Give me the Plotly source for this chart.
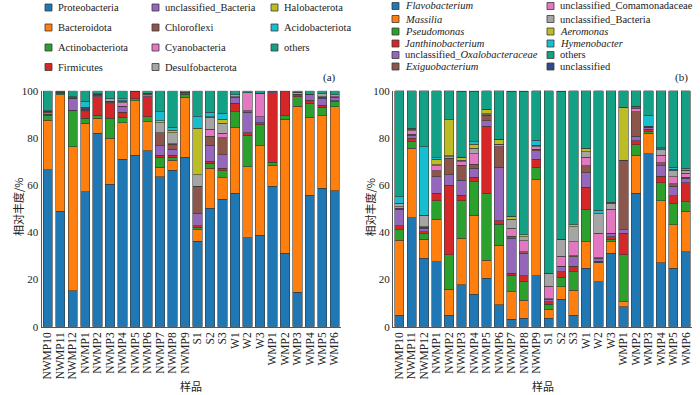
import plotly.graph_objects as go

W, H = 700, 395

samples = ["NWMP10", "NWMP11", "NWMP12", "NWMP1", "NWMP2", "NWMP3", "NWMP4", "NWMP5",
           "NWMP6", "NWMP7", "NWMP8", "NWMP9", "S1", "S2", "S3", "W1", "W2", "W3",
           "WMP1", "WMP2", "WMP3", "WMP4", "WMP5", "WMP6"]
y_ticks = [0, 20, 40, 60, 80, 100]

# ---------- panel (a): phylum level ----------
proteobacteria = [66.5, 49.0, 15.3, 57.2, 81.9, 60.3, 71.0, 72.6, 74.6, 63.6, 66.4, 71.8,
                  36.3, 50.1, 54.0, 56.5, 37.7, 38.8, 59.6, 31.1, 14.5, 55.8, 58.6, 57.6]
bacteroidota = [21.0, 49.2, 61.0, 29.0, 6.4, 19.5, 15.4, 23.2, 12.3, 3.9, 4.2, 25.4,
                4.7, 17.0, 9.1, 27.8, 30.1, 37.8, 8.9, 56.8, 79.0, 32.9, 30.7, 35.6]
actinobacteriota = [1.8, 0.6, 15.2, 2.1, 1.4, 8.5, 2.3, 0.7, 2.1, 4.3, 1.2, 1.4,
                    1.1, 2.1, 3.0, 6.8, 13.4, 8.9, 1.1, 1.4, 4.0, 5.7, 3.6, 2.1]
firmicutes = [0.8, 0.4, 0.3, 2.8, 7.8, 6.1, 2.1, 3.2, 8.5, 0.8, 0.8, 0.8,
              0.6, 0.9, 1.1, 3.5, 1.0, 0.9, 29.6, 10.3, 0.3, 1.6, 1.0, 0.5]
unclassified_bacteria_a = [0.6, 0.1, 4.7, 0.6, 0.5, 0.6, 2.4, 0.0, 0.8, 4.1, 2.6, 0.0,
                           5.3, 6.7, 5.7, 2.6, 8.6, 2.6, 0.4, 0.0, 0.5, 2.2, 2.9, 1.4]
chloroflexi = [0.3, 0.2, 0.2, 0.5, 0.5, 0.5, 0.3, 0.0, 0.4, 5.5, 2.1, 0.0,
               11.6, 4.0, 7.1, 0.3, 0.7, 0.0, 0.0, 0.0, 0.3, 0.4, 0.4, 0.3]
cyanobacteria = [0.2, 0.0, 0.6, 0.3, 0.0, 0.0, 1.4, 0.0, 0.0, 0.0, 0.3, 0.0,
                 0.0, 2.8, 1.9, 0.0, 7.7, 9.9, 0.0, 0.0, 0.8, 0.0, 0.3, 0.7]
desulfobacterota = [0.2, 0.0, 0.2, 0.3, 0.3, 1.0, 0.6, 0.0, 0.3, 4.2, 4.6, 0.0,
                    4.7, 5.1, 4.3, 0.7, 0.0, 0.0, 0.0, 0.0, 0.0, 0.0, 1.2, 0.0]
halobacterota = [0.0, 0.0, 0.0, 0.2, 0.0, 0.0, 0.2, 0.0, 0.0, 0.9, 1.1, 0.0,
                 19.7, 0.2, 1.7, 0.0, 0.0, 0.0, 0.0, 0.0, 0.0, 0.0, 0.0, 0.0]
acidobacteriota = [0.1, 0.0, 0.0, 2.5, 0.0, 0.0, 0.9, 0.0, 0.0, 3.7, 1.2, 0.0,
                   5.0, 1.9, 2.5, 0.0, 0.0, 0.0, 0.0, 0.0, 0.0, 0.0, 0.0, 0.0]
others_a = [8.5, 0.5, 2.5, 4.5, 1.2, 3.5, 3.4, 0.3, 1.0, 9.0, 15.5, 0.6,
            11.0, 9.2, 9.6, 1.8, 0.8, 1.1, 0.4, 0.4, 0.6, 1.4, 1.3, 1.8]

# ---------- panel (b): genus level ----------
flavobacterium = [4.9, 46.2, 29.0, 27.5, 4.9, 17.7, 13.8, 20.5, 9.2, 3.1, 3.5, 21.5,
                  3.5, 11.6, 4.9, 24.7, 19.1, 31.1, 8.5, 56.5, 73.2, 27.1, 24.7, 31.8]
massilia = [31.8, 29.4, 8.0, 18.0, 10.9, 19.7, 33.5, 7.7, 25.4, 11.7, 7.8, 40.9,
            3.6, 5.3, 10.6, 11.3, 8.0, 4.9, 2.1, 16.2, 8.7, 26.3, 18.4, 17.2]
pseudomonas = [4.3, 2.8, 2.3, 7.9, 14.6, 16.0, 14.1, 28.3, 8.9, 7.1, 8.0, 5.1,
               2.5, 4.0, 7.8, 13.7, 0.3, 1.0, 19.8, 4.3, 0.7, 7.6, 8.9, 4.0]
janthinobacterium = [1.7, 1.4, 1.0, 3.1, 29.6, 2.4, 1.9, 28.5, 1.4, 0.7, 2.2, 3.4,
                     1.0, 2.4, 2.4, 9.3, 0.4, 1.1, 9.1, 1.8, 1.0, 2.8, 3.4, 8.0]
unclassified_oxalobacteraceae = [7.0, 1.4, 1.4, 7.1, 4.3, 6.3, 3.8, 2.3, 22.6, 14.8, 9.6, 3.7,
                                 1.0, 2.1, 4.0, 6.3, 1.2, 1.2, 1.5, 2.0, 0.7, 4.3, 4.2, 1.9]
exiguobacterium = [0.4, 0.3, 0.4, 2.5, 7.0, 6.4, 1.8, 2.4, 8.8, 0.9, 0.7, 0.5,
                   0.3, 0.3, 0.3, 2.8, 0.3, 0.3, 28.9, 10.3, 0.3, 1.4, 0.9, 0.5]
unclassified_comamonadaceae = [0.7, 1.6, 0.3, 2.0, 0.7, 1.4, 4.3, 0.2, 0.7, 3.4, 4.6, 1.2,
                               5.3, 4.2, 6.0, 3.7, 10.2, 10.1, 0.7, 1.4, 0.2, 3.2, 3.1, 1.6]
unclassified_bacteria_b = [1.2, 0.6, 4.9, 0.5, 0.5, 0.7, 2.4, 0.3, 0.3, 3.8, 1.7, 0.3,
                           5.4, 7.1, 6.4, 2.4, 8.4, 2.6, 0.0, 0.3, 0.2, 2.4, 2.8, 1.1]
aeromonas = [0.3, 0.2, 0.0, 2.3, 15.1, 1.2, 1.8, 2.0, 2.1, 1.4, 0.8, 0.3,
             0.0, 0.0, 0.7, 1.4, 0.0, 0.4, 22.3, 0.7, 0.0, 0.3, 0.3, 0.2]
hymenobacter = [2.8, 0.1, 29.0, 0.6, 0.0, 0.1, 1.0, 0.0, 0.0, 0.0, 0.0, 2.2,
                0.0, 0.0, 0.0, 0.0, 1.5, 0.0, 0.0, 0.0, 4.5, 0.4, 0.8, 0.8]
others_b = [44.9, 16.0, 23.7, 28.5, 12.4, 27.8, 21.3, 7.8, 20.6, 52.8, 60.8, 20.9,
            77.4, 62.6, 56.9, 24.4, 50.6, 47.3, 7.1, 6.5, 10.5, 24.2, 32.5, 32.9]
unclassified_b = [0.0, 0.0, 0.0, 0.0, 0.0, 0.3, 0.3, 0.0, 0.0, 0.3, 0.3, 0.0,
                  0.0, 0.4, 0.0, 0.0, 0.0, 0.0, 0.0, 0.0, 0.0, 0.0, 0.0, 0.0]

names_a = ["Proteobacteria", "Bacteroidota", "Actinobacteriota", "Firmicutes",
           "unclassified_Bacteria", "Chloroflexi", "Cyanobacteria", "Desulfobacterota",
           "Halobacterota", "Acidobacteriota", "others"]
series_a = [proteobacteria, bacteroidota, actinobacteriota, firmicutes,
            unclassified_bacteria_a, chloroflexi, cyanobacteria, desulfobacterota,
            halobacterota, acidobacteriota, others_a]

names_b = ["<i>Flavobacterium</i>", "<i>Massilia</i>", "<i>Pseudomonas</i>",
           "<i>Janthinobacterium</i>", "unclassified_<i>Oxalobacteraceae</i>",
           "<i>Exiguobacterium</i>", "unclassified_Comamonadaceae", "unclassified_Bacteria",
           "<i>Aeromonas</i>", "<i>Hymenobacter</i>", "others", "unclassified"]
series_b = [flavobacterium, massilia, pseudomonas, janthinobacterium,
            unclassified_oxalobacteraceae, exiguobacterium, unclassified_comamonadaceae,
            unclassified_bacteria_b, aeromonas, hymenobacter, others_b, unclassified_b]

colors = ["#1f77b4", "#ff7f0e", "#2ca02c", "#d62728", "#9467bd", "#8c564b",
          "#e377c2", "#a5a5a5", "#bcbd22", "#17becf", "#13a085", "#2e4a8b"]

FONT = "Liberation Serif"
CJK = "Noto Sans CJK SC"
EDGE = "#3a3a3a"
TXT = "#222222"

fig = go.Figure()
for name, vals, col in zip(names_a, series_a, colors):
    fig.add_trace(go.Bar(x=samples, y=vals, name=name, marker_color=col,
                         marker_line=dict(color=EDGE, width=0.6),
                         xaxis="x", yaxis="y", showlegend=False))
for name, vals, col in zip(names_b, series_b, colors):
    fig.add_trace(go.Bar(x=samples, y=vals, name=name, marker_color=col,
                         marker_line=dict(color=EDGE, width=0.6),
                         xaxis="x2", yaxis="y2", showlegend=False))

# plot-area geometry in pixels
ax_l, ax_r = 41.5, 341.0
bx_l, bx_r = 393.0, 692.0
y_top, y_bot = 90.7, 326.7


def px(x):
    return x / W


def py(y):
    return 1 - y / H


xcommon = dict(type="category", tickangle=-90, tickmode="array", tickvals=samples,
               ticktext=samples, tickfont=dict(size=11.5, family=FONT, color=TXT),
               showline=True, linecolor="#555", linewidth=1, ticks="", showgrid=False,
               automargin=False, range=[-0.5, 23.5])
ycommon = dict(range=[0, 100], tickvals=y_ticks, ticks="",
               tickfont=dict(size=11, family=FONT, color=TXT), showline=True,
               linecolor="#555", linewidth=1, showgrid=False, zeroline=False, automargin=False,
               domain=[py(y_bot), py(y_top)])

fig.update_layout(
    width=W, height=H, barmode="stack", bargap=0.25,
    margin=dict(l=0, r=0, t=0, b=0),
    paper_bgcolor="white", plot_bgcolor="white",
    template="none", showlegend=False,
    font=dict(family=FONT, color=TXT),
    xaxis=dict(xcommon, domain=[px(ax_l), px(ax_r)], anchor="y"),
    yaxis=dict(ycommon, anchor="x"),
    xaxis2=dict(xcommon, domain=[px(bx_l), px(bx_r)], anchor="y2"),
    yaxis2=dict(ycommon, anchor="x2"),
)

annotations = []
shapes = []


def legend_item(sx, cy, color, text, size=10.5):
    shapes.append(dict(type="rect", xref="paper", yref="paper",
                       x0=px(sx), x1=px(sx + 7), y0=py(cy + 3.5), y1=py(cy - 3.5),
                       fillcolor=color, line=dict(color=EDGE, width=0.8)))
    annotations.append(dict(x=px(sx + 11), y=py(cy), xref="paper", yref="paper",
                            text=text, showarrow=False, xanchor="left", yanchor="middle",
                            font=dict(size=size, family=FONT, color=TXT)))


def label(x, y, text, family=FONT, angle=0):
    annotations.append(dict(x=px(x), y=py(y), xref="paper", yref="paper", text=text,
                            showarrow=False, xanchor="center", yanchor="middle",
                            textangle=angle, font=dict(size=11, family=family, color=TXT)))


# panel (a) legend: 3 columns, column-major
cols_a = [45, 152, 271]
rows_a = [7.5, 27.5, 47.5, 67]
for i, (name, col) in enumerate(zip(names_a, colors)):
    c, r = divmod(i, 4)
    legend_item(cols_a[c], rows_a[r], col, name)

# panel (b) legend: 2 columns, column-major
cols_b = [392, 547]
rows_b = [6, 19, 31.5, 43.5, 55, 66.5]
for i, (name, col) in enumerate(zip(names_b, colors)):
    c, r = divmod(i, 6)
    legend_item(cols_b[c], rows_b[r], col, name)

# panel labels
label(329, 77, "(a)")
label(681, 77, "(b)")

# axis titles
for xl, xr in [(ax_l, ax_r), (bx_l, bx_r)]:
    label(xl - 23.5, 207, "相对丰度/%", family=CJK, angle=-90)
    label((xl + xr) / 2, 386, "样品", family=CJK)

fig.update_layout(annotations=annotations, shapes=shapes)
fig.write_html("out.html", config={"displayModeBar": False},
               post_script="document.body.style.margin='0';document.body.style.overflow='hidden';")
